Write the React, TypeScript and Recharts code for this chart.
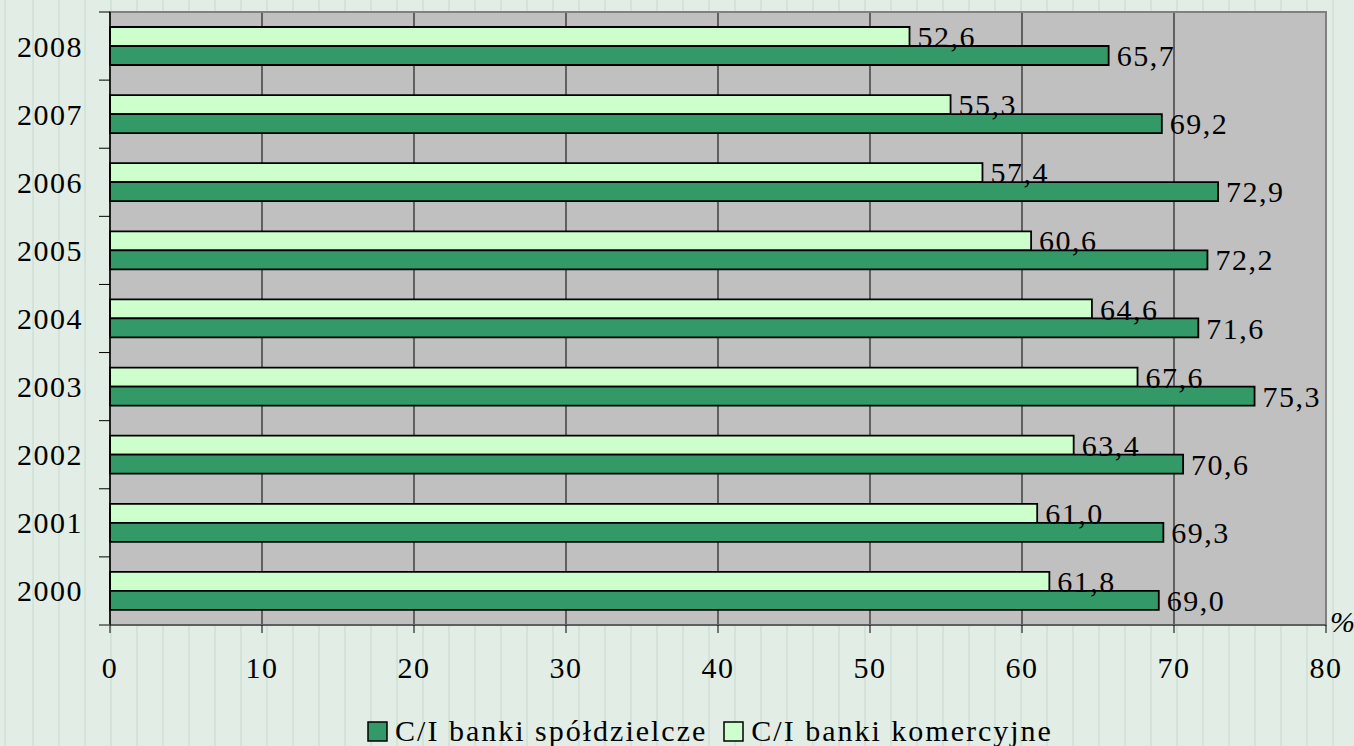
import React from 'react';
import { BarChart, Bar, XAxis, YAxis, CartesianGrid, ReferenceArea, LabelList, Legend } from 'recharts';

// top to bottom, as in the picture
const years = ['2008', '2007', '2006', '2005', '2004', '2003', '2002', '2001', '2000'];
const komercyjne = [52.6, 55.3, 57.4, 60.6, 64.6, 67.6, 63.4, 61.0, 61.8];
const spoldzielcze = [65.7, 69.2, 72.9, 72.2, 71.6, 75.3, 70.6, 69.3, 69.0];
const xTicks = [0, 10, 20, 30, 40, 50, 60, 70, 80];

const seriesNames = {
    spoldzielcze: 'C/I banki spółdzielcze',
    komercyjne: 'C/I banki komercyjne'
};

const DARK = '#339966';
const LIGHT = '#ccffcc';
const FONT = '"Liberation Serif", "Times New Roman", serif';

const W = 1354;
const H = 746;
const PLOT_TOP = 12;
const PLOT_BOTTOM = 625;
const BAND = (PLOT_BOTTOM - PLOT_TOP) / years.length;

const fmt = (v: number) => v.toFixed(1).replace('.', ',');

function YTick(props: any) {
    const { y, payload, index } = props;
    const last = index === years.length - 1;
    return (
        <g>
            <line x1={99} x2={110} y1={y - BAND / 2} y2={y - BAND / 2} stroke="#000" strokeWidth={1} />
            {last && <line x1={99} x2={110} y1={y + BAND / 2} y2={y + BAND / 2} stroke="#555" strokeWidth={1.5} />}
            <text x={83} y={y} dy="0.35em" textAnchor="end" fontSize={30} letterSpacing={1.5} fontFamily={FONT} fill="#000">
                {payload.value}
            </text>
        </g>
    );
}

function LegendBox() {
    const items = [
        { name: seriesNames.spoldzielcze, color: DARK },
        { name: seriesNames.komercyjne, color: LIGHT }
    ];
    return (
        <div style={{ display: 'flex', justifyContent: 'center', alignItems: 'center', paddingLeft: 66, height: 30, fontFamily: FONT, fontSize: 30, letterSpacing: 2, color: '#000' }}>
            {items.map((it, i) => (
                <div key={i} style={{ display: 'flex', alignItems: 'center', marginRight: i === 0 ? 16 : 0 }}>
                    <svg width={21} height={21} style={{ marginRight: 7 }}>
                        <rect x={1} y={1} width={19} height={19} fill={it.color} stroke="#000" strokeWidth={1.5} />
                    </svg>
                    <span style={{ lineHeight: '30px' }}>{it.name}</span>
                </div>
            ))}
        </div>
    );
}

export default function App(): JSX.Element {
    const data = years.map((year, i) => ({
        year,
        komercyjne: komercyjne[i],
        spoldzielcze: spoldzielcze[i]
    }));

    return (
        <div
            style={{
                position: 'absolute',
                left: 0,
                top: 0,
                width: W,
                height: H,
                backgroundColor: '#e2ede6',
                backgroundImage: 'repeating-linear-gradient(90deg, transparent 0px, transparent 24px, #d3e3d9 24px, #d3e3d9 26px)',
                backgroundPosition: '8px 0'
            }}
        >
            <BarChart
                width={W}
                height={H}
                data={data}
                layout="vertical"
                margin={{ top: PLOT_TOP, right: 28, left: 0, bottom: 0 }}
                barGap={0}
                barSize={19}
            >
                <CartesianGrid horizontal={false} stroke="#000" strokeOpacity={1} fill="#c0c0c0" fillOpacity={1} />
                <ReferenceArea x1={0} x2={80} fill="none" stroke="#808080" strokeWidth={2} />
                <XAxis
                    type="number"
                    domain={[0, 80]}
                    ticks={xTicks}
                    height={91}
                    tickSize={8}
                    tickMargin={24}
                    axisLine={{ stroke: '#555', strokeWidth: 1.5 }}
                    tickLine={{ stroke: '#000' }}
                    tick={{ fontSize: 30, fill: '#000', fontFamily: FONT, letterSpacing: 1.5 }}
                    label={(p: any) => {
                        const vb = p.viewBox;
                        return (
                            <text x={vb.x + vb.width + 4} y={vb.y + 7} fontSize={30} fontStyle="italic" fontFamily={FONT} fill="#000">
                                %
                            </text>
                        );
                    }}
                />
                <YAxis
                    type="category"
                    dataKey="year"
                    width={110}
                    tickLine={false}
                    axisLine={{ stroke: '#000', strokeWidth: 1.5 }}
                    tick={<YTick />}
                    interval={0}
                />
                <Legend
                    verticalAlign="bottom"
                    content={<LegendBox />}
                    wrapperStyle={{ height: 30, bottom: 0, left: 0, width: W }}
                />
                <Bar dataKey="komercyjne" name={seriesNames.komercyjne} fill={LIGHT} stroke="#000" strokeWidth={1.8} isAnimationActive={false}>
                    <LabelList dataKey="komercyjne" position="right" offset={8} formatter={(v: any) => fmt(Number(v))} fontSize={30} letterSpacing={1.5} fontFamily={FONT} fill="#000" />
                </Bar>
                <Bar dataKey="spoldzielcze" name={seriesNames.spoldzielcze} fill={DARK} stroke="#000" strokeWidth={1.8} isAnimationActive={false}>
                    <LabelList dataKey="spoldzielcze" position="right" offset={8} formatter={(v: any) => fmt(Number(v))} fontSize={30} letterSpacing={1.5} fontFamily={FONT} fill="#000" />
                </Bar>
            </BarChart>
        </div>
    );
}
